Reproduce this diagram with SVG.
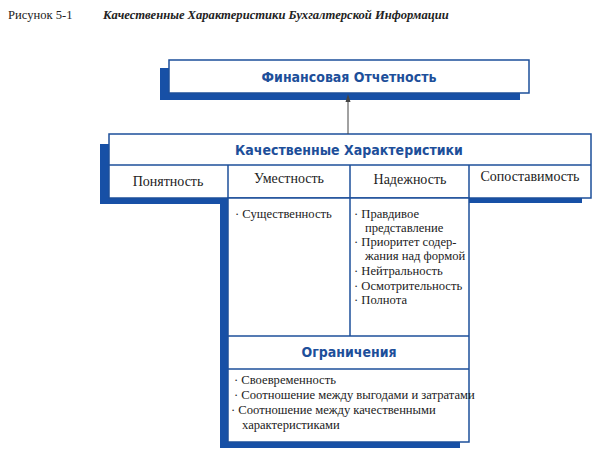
<svg xmlns="http://www.w3.org/2000/svg" width="600" height="458" viewBox="0 0 600 458">
<style>
.sh{fill:#1750a6}
.bx{fill:#fff;stroke:#1d4f9a;stroke-width:1.5}
.ln{stroke:#1d4f9a;stroke-width:1.5;fill:none}
.hd{font-family:"DejaVu Sans Condensed","DejaVu Sans",sans-serif;font-weight:bold;font-size:14px;fill:#1d4f9a;text-anchor:middle}
.t{font-family:"Liberation Serif",serif;font-size:12.6px;fill:#222}
.c{text-anchor:middle;font-size:14px}
</style>
<rect width="600" height="458" fill="#fff"/>
<text x="8" y="19" class="t" font-size="14.5">Рисунок 5-1</text>
<text x="103" y="19" class="t" font-size="14.5" font-style="italic" font-weight="bold">Качественные Характеристики Бухгалтерской Информации</text>
<g id="fin">
<rect class="sh" x="160" y="68" width="360" height="32"/>
<rect class="bx" x="169" y="60" width="360" height="33"/>
<text class="hd" x="349" y="82">Финансовая Отчетность</text>
</g>
<g id="qual">
<rect class="sh" x="100" y="144" width="128" height="60"/>
<rect class="sh" x="469" y="190" width="113" height="13"/>
<rect class="sh" x="220" y="200" width="240" height="248"/>
<rect class="bx" x="109" y="134" width="482" height="64"/>
<rect class="bx" x="228" y="198" width="241" height="244"/>
<line class="ln" x1="109" y1="165" x2="591" y2="165"/>
<line class="ln" x1="228" y1="165" x2="228" y2="198"/>
<line class="ln" x1="350" y1="165" x2="350" y2="336"/>
<line class="ln" x1="469" y1="165" x2="469" y2="198"/>
<line class="ln" x1="228" y1="336" x2="469" y2="336"/>
<line class="ln" x1="228" y1="369" x2="469" y2="369"/>
<text class="hd" x="349" y="155">Качественные Характеристики</text>
<text class="t c" x="168" y="186">Понятность</text>
<text class="t c" x="289" y="183">Уместность</text>
<text class="t c" x="410" y="184">Надежность</text>
<text class="t c" x="530" y="181">Сопоставимость</text>
<text class="t" x="235" y="218">· Существенность</text>
<text class="t" x="354" y="218">· Правдивое</text>
<text class="t" x="365" y="232">представление</text>
<text class="t" x="354" y="246">· Приоритет содер-</text>
<text class="t" x="365" y="260">жания над формой</text>
<text class="t" x="354" y="275">· Нейтральность</text>
<text class="t" x="354" y="290">· Осмотрительность</text>
<text class="t" x="354" y="304">· Полнота</text>
<text class="hd" x="349" y="357">Ограничения</text>
<text class="t" x="234" y="384">· Своевременность</text>
<text class="t" x="234" y="399">· Соотношение между выгодами и затратами</text>
<text class="t" x="231" y="414">· Соотношение между качественными</text>
<text class="t" x="242" y="429">характеристиками</text>
</g>
<g id="connectors">
<line x1="348" y1="134" x2="348" y2="100" stroke="#444" stroke-width="1"/>
<path d="M348,94 L345.5,102 L350.5,102z" fill="#444"/>
</g>
</svg>
